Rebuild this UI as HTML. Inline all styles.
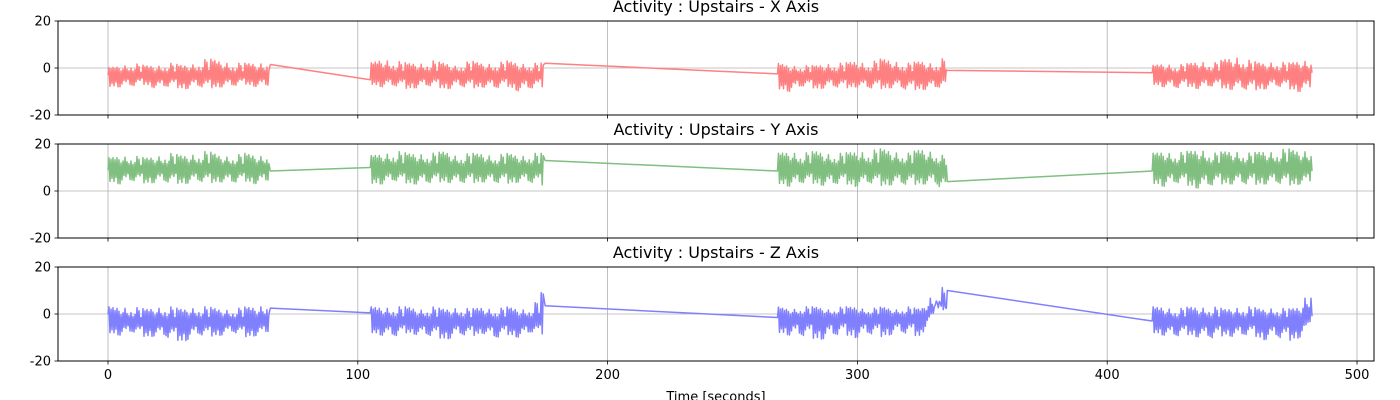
<!DOCTYPE html>
<html><head><meta charset="utf-8"><style>
html,body{margin:0;padding:0;background:#fff;}
svg{display:block;font-family:"DejaVu Sans","Liberation Sans",sans-serif;}
</style></head><body>
<svg id="fig" width="1400" height="400"></svg>
<script>
// ---- data ----
const xTicks = [0,100,200,300,400,500];
const yTicks = [-20,0,20];
const segStarts = [0,105,268,418];
const segEnds = [65,175,336,482];
const axisNames = ["X","Y","Z"];
const axisColors = ["#ff8080","#80bf80","#8080ff"];
// envelope highs/lows per segment (evenly spaced across each segment)
const xHi = [[0,1,2,1,1,2,1,2,4,3,2,2,2,3],[2,4,3,2,2,3,2,1,3,2,2,3,2,2,2],[2,1,1,1,2,2,3,2,4,3,2,3,2,5],[1,2,1,2,3,2,4,5,3,2,3,2,3,4]];
const xLo = [[-8,-8,-8,-7,-9,-8,-9,-8,-9,-8,-8,-7,-8,-8],[-7,-8,-8,-9,-8,-8,-9,-8,-9,-8,-9,-8,-10,-9,-8],[-9,-10,-8,-9,-8,-9,-8,-9,-9,-8,-10,-9,-9,-8],[-7,-8,-9,-8,-9,-8,-9,-9,-10,-9,-8,-9,-10,-9]];
const xEnds = [[-3,1.5],[-5,2],[-2.5,-1],[-2,-2]];
const yHi = [[14,15,15,14,15,16,15,16,17,15,15,16,15,16],[15,16,17,16,16,16,17,15,16,16,15,16,15,16,16],[16,17,16,17,16,16,17,17,18,17,16,18,17,14],[16,17,16,17,18,16,17,17,16,17,17,18,17,18]];
const yLo = [[4,3,4,3,4,3,3,4,3,4,3,4,3,4],[3,3,4,3,3,3,4,3,3,4,3,3,4,3,2],[3,2,3,3,2,3,2,3,2,3,2,3,3,-2],[3,2,3,2,1,2,3,3,2,3,3,2,3,3]];
const yEnds = [[9,8.5],[10,13],[8.5,4],[8.5,8.5]];
const zHi = [[3,3,3,2,3,3,2,3,3,2,2,3,3,6],[3,3,3,3,2,3,2,3,2,3,2,3,2,3,12],[3,2,3,3,2,3,3,2,3,2,3,2,10,12],[3,3,2,3,3,3,2,3,3,2,3,2,3,14]];
const zLo = [[-8,-9,-8,-10,-9,-11,-12,-9,-10,-9,-8,-10,-9,-8],[-8,-9,-10,-8,-9,-10,-11,-9,-10,-8,-11,-9,-10,-8,-9],[-8,-9,-10,-11,-10,-9,-10,-9,-10,-8,-9,-10,5,8],[-8,-9,-10,-9,-10,-11,-9,-10,-9,-11,-10,-12,-10,-2]];
const zEnds = [[0,2.5],[0.5,3.5],[-1.5,10],[-3,-1]];
const allHi = [xHi,yHi,zHi], allLo=[xLo,yLo,zLo], allEnds=[xEnds,yEnds,zEnds];
const amps = [1,0.55,0.85,0.4,0.95,0.6,0.75,0.35,0.9,0.5,0.7,1,0.45,0.8,0.6,0.3,0.9];

// ---- layout ----
const NS="http://www.w3.org/2000/svg";
const svg=document.getElementById('fig');
const L=58,R=1374,tops=[21,144,267],H=94;
const sx=v=>108+(v-0)*2.498;
function mk(tag,attrs,parent){const e=document.createElementNS(NS,tag);for(const k in attrs)e.setAttribute(k,attrs[k]);(parent||svg).appendChild(e);return e;}
for(let a=0;a<3;a++){
  const top=tops[a];
  const sy=v=>top+H/2-v*(H/40);
  const g=mk('g',{});
  
  
  xTicks.forEach(t=>{const l=mk('line',{x1:sx(t),x2:sx(t),y1:top,y2:top+H,stroke:'#b0b0b0','stroke-width':0.8},g);
    
    const k=mk('line',{x1:sx(t),x2:sx(t),y1:top+H,y2:top+H+3.5,stroke:'#000','stroke-width':0.8},g);
    
    if(a===2){const tx=mk('text',{x:sx(t),y:top+H+18,'font-size':13,'text-anchor':'middle'},g);tx.textContent=t;
      }
  });
  yTicks.forEach(t=>{
    if(t===0){const l=mk('line',{x1:L,x2:R,y1:sy(0),y2:sy(0),stroke:'#b0b0b0','stroke-width':0.8},g);
      }
    const k=mk('line',{x1:L-3.5,x2:L,y1:sy(t),y2:sy(t),stroke:'#000','stroke-width':0.8},g);
    
    const tx=mk('text',{x:L-7,y:sy(t)+4.5,'font-size':13,'text-anchor':'end'},g);tx.textContent=t;
    
  });
  let d='';
  const hi=allHi[a],lo=allLo[a],ends=allEnds[a];
  for(let s=0;s<segStarts.length;s++){
    const s0=segStarts[s],s1=segEnds[s],n=hi[s].length;
    const mid=(hi[s].reduce((p,c)=>p+c,0)+lo[s].reduce((p,c)=>p+c,0))/(2*n);
    d+=(s===0?'M':'L')+sx(s0)+','+sy(ends[s][0]);
    let k=0;
    for(let t=s0+0.4;t<s1-0.4;t+=0.4,k++){
      const f=(t-s0)/(s1-s0)*(n-1);const i=Math.min(n-2,Math.floor(f));const r=f-i;
      const h=hi[s][i]*(1-r)+hi[s][i+1]*r, l=lo[s][i]*(1-r)+lo[s][i+1]*r;
      const m=amps[k%amps.length];
      const v=(k%2===0)? mid+(h-mid)*m : mid+(l-mid)*amps[(k*3+1)%amps.length];
      d+='L'+sx(t).toFixed(1)+','+sy(v).toFixed(1);
    }
    d+='L'+sx(s1)+','+sy(ends[s][1]);
  }
  const p=mk('path',{d:d,fill:'none',stroke:axisColors[a],'stroke-width':1.5,'stroke-linejoin':'round'},g);
  
  
  const fr=mk('rect',{x:L,y:top,width:R-L,height:H,fill:'none',stroke:'#000','stroke-width':1},g);
  
  const ti=mk('text',{x:(L+R)/2,y:top-9,'font-size':16,'text-anchor':'middle'},g);
  ti.textContent='Activity : Upstairs - '+axisNames[a]+' Axis';
  
}
const xl=mk('text',{x:(L+R)/2,y:401,'font-size':13,'text-anchor':'middle'});
xl.textContent='Time [seconds]';


</script>
</body></html>
